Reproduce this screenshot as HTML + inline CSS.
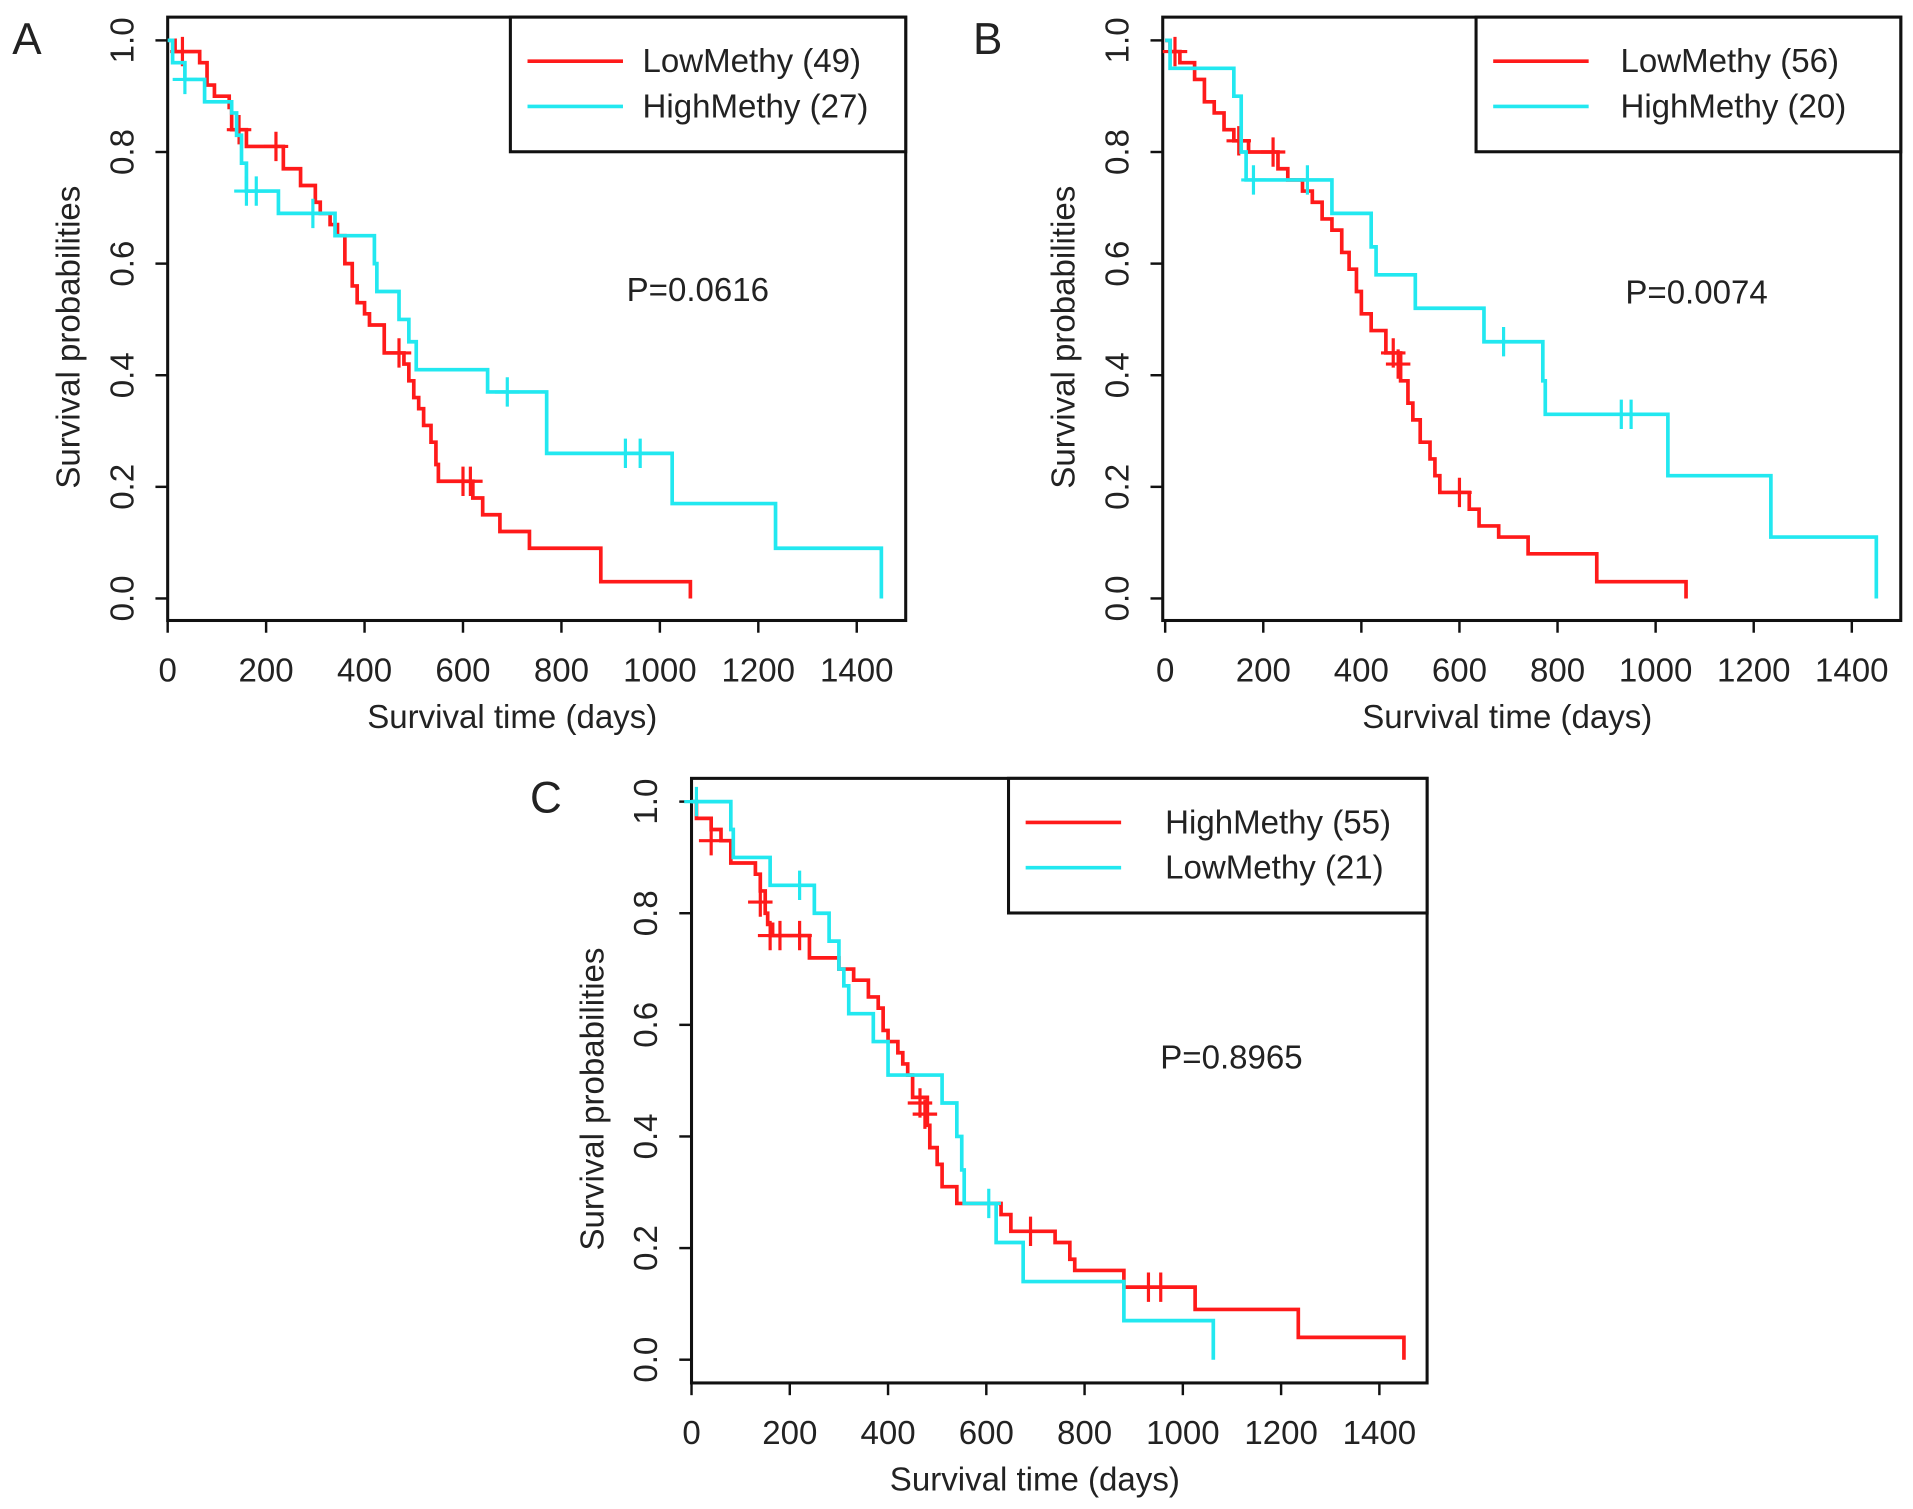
<!DOCTYPE html>
<html><head><meta charset="utf-8"><style>
html,body{margin:0;padding:0;background:#fff;}
svg{display:block;}
text{font-family:"Liberation Sans",Arial,sans-serif;fill:#222;}
</style></head><body>
<svg id="fig" width="1913" height="1509" viewBox="0 0 1563 1233" preserveAspectRatio="none" xmlns="http://www.w3.org/2000/svg"></svg>
<script>
const xTicks=[0,200,400,600,800,1000,1200,1400];
const yTicks=[0,0.2,0.4,0.6,0.8,1.0];
// Panel A
const aRedT=[0,15,65,80,95,125,130,160,235,270,300,310,330,345,360,375,385,400,410,440,480,490,500,510,520,535,545,550,620,640,675,735,880,1062];
const aRedS=[1,0.98,0.96,0.92,0.90,0.88,0.84,0.81,0.77,0.74,0.71,0.69,0.67,0.65,0.60,0.56,0.53,0.51,0.49,0.44,0.42,0.39,0.36,0.34,0.31,0.28,0.24,0.21,0.18,0.15,0.12,0.09,0.03,0];
const aRedCens=[[30,0.98],[145,0.84],[220,0.81],[470,0.44],[600,0.21],[615,0.21]];
const aCyT=[0,10,35,75,130,140,150,160,225,340,420,425,470,490,505,650,770,1025,1235,1450];
const aCyS=[1,0.96,0.93,0.89,0.87,0.83,0.78,0.73,0.69,0.65,0.60,0.55,0.50,0.46,0.41,0.37,0.26,0.17,0.09,0];
const aCyCens=[[35,0.93],[160,0.73],[180,0.73],[295,0.69],[690,0.37],[930,0.26],[960,0.26]];
// Panel B
const bRedT=[0,10,30,60,80,100,120,140,170,230,250,280,300,320,340,360,375,390,400,420,450,480,495,505,520,540,550,560,620,640,680,740,880,1062];
const bRedS=[1,0.98,0.96,0.93,0.89,0.87,0.84,0.82,0.80,0.77,0.75,0.73,0.71,0.68,0.66,0.62,0.59,0.55,0.51,0.48,0.44,0.39,0.35,0.32,0.28,0.25,0.22,0.19,0.16,0.13,0.11,0.08,0.03,0];
const bRedCens=[[20,0.98],[150,0.82],[220,0.80],[465,0.44],[475,0.42],[600,0.19]];
const bCyT=[0,10,140,155,165,340,420,430,510,650,770,775,1025,1235,1450];
const bCyS=[1,0.95,0.90,0.80,0.75,0.69,0.63,0.58,0.52,0.46,0.39,0.33,0.22,0.11,0];
const bCyCens=[[180,0.75],[290,0.75],[690,0.46],[930,0.33],[950,0.33]];
// Panel C
const cRedT=[0,10,40,60,80,130,140,150,155,165,240,300,330,360,380,390,400,420,430,440,450,480,485,500,510,540,630,650,740,770,780,880,1025,1235,1450];
const cRedS=[1,0.97,0.95,0.93,0.89,0.87,0.84,0.80,0.78,0.76,0.72,0.70,0.68,0.65,0.63,0.59,0.57,0.55,0.53,0.51,0.47,0.42,0.38,0.35,0.31,0.28,0.26,0.23,0.21,0.18,0.16,0.13,0.09,0.04,0];
const cRedCens=[[40,0.93],[140,0.82],[160,0.76],[180,0.76],[220,0.76],[465,0.46],[475,0.44],[690,0.23],[930,0.13],[955,0.13]];
const cCyT=[0,80,85,160,250,280,300,310,320,370,400,510,540,550,555,620,675,880,1062];
const cCyS=[1,0.95,0.90,0.85,0.80,0.75,0.70,0.67,0.62,0.57,0.51,0.46,0.40,0.34,0.28,0.21,0.14,0.07,0];
const cCyCens=[[10,1.0],[220,0.85],[605,0.28]];

const NS="http://www.w3.org/2000/svg";
const svg=document.getElementById('fig');
function mk(tag,attrs,parent){const e=document.createElementNS(NS,tag);for(const k in attrs)e.setAttribute(k,attrs[k]);parent.appendChild(e);return e;}

function panel(p){
  const g=mk('g',{},svg);
  
  
  const X=t=>p.x0+(t/1400)*(p.x1400-p.x0);
  const Y=s=>p.y0-s*(p.y0-p.y1);
  const lt=mk('text',{x:p.letterX,y:p.letterY,'font-size':36},g);lt.textContent=p.id;
  
  
  const box=mk('rect',{x:p.bx,y:p.by,width:p.bw,height:p.bh,fill:'none',stroke:'#111','stroke-width':2.5},g);
  
  
  xTicks.forEach(v=>{
    mk('line',{x1:X(v),x2:X(v),y1:p.by+p.bh,y2:p.by+p.bh+10,stroke:'#111','stroke-width':2},g);
    const t=mk('text',{x:X(v),y:p.by+p.bh+50,'font-size':27,'text-anchor':'middle'},g);t.textContent=v;
    
    
  });
  yTicks.forEach(v=>{
    mk('line',{x1:p.bx,x2:p.bx-10,y1:Y(v),y2:Y(v),stroke:'#111','stroke-width':2},g);
    const tx=p.bx-28;
    const t=mk('text',{x:tx,y:Y(v),'font-size':27,'text-anchor':'middle',transform:`rotate(-90 ${tx} ${Y(v)})`},g);t.textContent=v.toFixed(1);
    
    
  });
  const xt=mk('text',{x:p.bx+p.bw/2-20,y:p.by+p.bh+88,'font-size':27,'text-anchor':'middle'},g);xt.textContent='Survival time (days)';
  
  
  const yx=p.bx-72, yy=p.by+p.bh/2+15;
  const yt=mk('text',{x:yx,y:yy,'font-size':27,'text-anchor':'middle',transform:`rotate(-90 ${yx} ${yy})`},g);yt.textContent='Survival probabilities';
  
  
  p.series.forEach(s=>{
    let d=`M${X(s.t[0])},${Y(s.s[0])}`;
    for(let i=1;i<s.t.length;i++){d+=` H${X(s.t[i])} V${Y(s.s[i])}`;}
    const path=mk('path',{d:d,fill:'none',stroke:s.c,'stroke-width':3},g);
    
    
    s.cens.forEach(c=>{
      const cm=mk('path',{d:`M${X(c[0])},${Y(c[1])-12} V${Y(c[1])+12} M${X(c[0])-10},${Y(c[1])} H${X(c[0])+10}`,stroke:s.c,'stroke-width':2.6,fill:'none'},g);
      
      
    });
  });
  const lg=mk('g',{},g);
  
  
  mk('rect',{x:p.lx,y:p.by,width:p.bx+p.bw-p.lx,height:110,fill:'#fff',stroke:'#111','stroke-width':2.5},lg);
  p.series.forEach((s,i)=>{
    const ly=p.by+36+i*37;
    mk('line',{x1:p.lx+14,x2:p.lx+92,y1:ly,y2:ly,stroke:s.c,'stroke-width':3},lg);
    const t=mk('text',{x:p.lx+p.legTx,y:ly+9,'font-size':27},lg);t.textContent=s.label;
    
    
  });
  const pv=mk('text',{x:p.px,y:p.py,'font-size':27},g);pv.textContent=p.pval;
  
  
}
const RED='#ff1a1a', CY='#22e8f0';
panel({id:'A',letterX:10,letterY:44,bx:137,by:14,bw:603,bh:493,x0:137,x1400:700,y0:489,y1:33,lx:417,legTx:108,px:512,py:246,pval:'P=0.0616',
 series:[{name:'low',c:RED,t:aRedT,s:aRedS,cens:aRedCens,label:'LowMethy (49)'},{name:'high',c:CY,t:aCyT,s:aCyS,cens:aCyCens,label:'HighMethy (27)'}]});
panel({id:'B',letterX:795,letterY:44,bx:950,by:14,bw:603,bh:493,x0:952,x1400:1513,y0:489,y1:33,lx:1206,legTx:118,px:1328,py:248,pval:'P=0.0074',
 series:[{name:'low',c:RED,t:bRedT,s:bRedS,cens:bRedCens,label:'LowMethy (56)'},{name:'high',c:CY,t:bCyT,s:bCyS,cens:bCyCens,label:'HighMethy (20)'}]});
panel({id:'C',letterX:433,letterY:664,bx:565,by:636,bw:601,bh:494,x0:565,x1400:1127,y0:1111,y1:655,lx:824,legTx:128,px:948,py:873,pval:'P=0.8965',
 series:[{name:'high',c:RED,t:cRedT,s:cRedS,cens:cRedCens,label:'HighMethy (55)'},{name:'low',c:CY,t:cCyT,s:cCyS,cens:cCyCens,label:'LowMethy (21)'}]});
</script>
</body></html>
